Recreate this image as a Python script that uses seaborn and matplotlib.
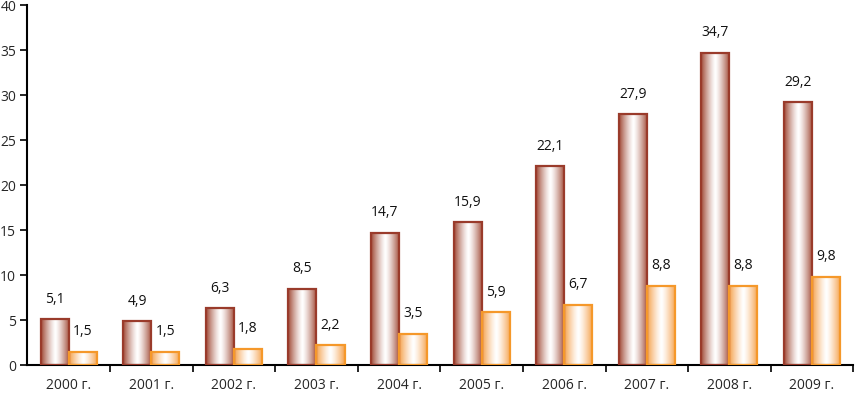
import matplotlib

matplotlib.use("Agg")
import matplotlib.pyplot as plt
import numpy as np
import pandas as pd
import seaborn as sns
from matplotlib.colors import LinearSegmentedColormap

YEARS = ["2000 г.", "2001 г.", "2002 г.", "2003 г.", "2004 г.",
         "2005 г.", "2006 г.", "2007 г.", "2008 г.", "2009 г."]
SERIES_1 = [5.1, 4.9, 6.3, 8.5, 14.7, 15.9, 22.1, 27.9, 34.7, 29.2]
SERIES_2 = [1.5, 1.5, 1.8, 2.2, 3.5, 5.9, 6.7, 8.8, 8.8, 9.8]
SERIES_NAMES = ["s1", "s2"]
Y_TICKS = [0, 5, 10, 15, 20, 25, 30, 35, 40]

EDGE = {"s1": "#9a3b2b", "s2": "#f5982a"}
FILL = {"s1": "#a04a36", "s2": "#f5a04a"}

df = pd.DataFrame({
    "year": YEARS * 2,
    "series": [SERIES_NAMES[0]] * len(YEARS) + [SERIES_NAMES[1]] * len(YEARS),
    "value": SERIES_1 + SERIES_2,
})

sns.set_style("white")
plt.rcParams["font.family"] = ["Open Sans", "DejaVu Sans"]

fig = plt.figure(figsize=(8.55, 3.96), dpi=100)
ax = fig.add_axes([0.032, 0.078, 0.966, 0.909])

sns.barplot(data=df, x="year", y="value", hue="series", hue_order=SERIES_NAMES,
            palette=EDGE, width=0.68, gap=0, legend=False, ax=ax)

grad = np.abs(np.linspace(-1, 1, 256)) ** 1.3
grad = grad.reshape(1, -1)

for container, name in zip(ax.containers, SERIES_NAMES):
    cmap = LinearSegmentedColormap.from_list(name, ["#ffffff", FILL[name]])
    for bar, val in zip(container, container.datavalues):
        x0, y0 = bar.get_x(), bar.get_y()
        w, h = bar.get_width(), bar.get_height()
        bar.set_facecolor("none")
        bar.set_edgecolor(EDGE[name])
        bar.set_linewidth(1.6)
        bar.set_zorder(3)
        im = ax.imshow(grad, cmap=cmap, vmin=0, vmax=1, aspect="auto",
                       extent=(x0, x0 + w, y0, y0 + h), zorder=2,
                       interpolation="bilinear")
        im.set_clip_path(bar)
        ax.annotate(f"{val:.1f}".replace(".", ","), (x0 + w / 2, y0 + h),
                    xytext=(0, 9), textcoords="offset points",
                    ha="center", va="bottom", fontsize=10, color="#111111")

ax.set_aspect("auto")
ax.set_xlim(-0.5, 9.5)
ax.set_ylim(0, 40)
ax.set_yticks(Y_TICKS)
ax.set_xticks(range(len(YEARS)))
ax.set_xticklabels(YEARS)
ax.set_xticks(np.arange(0.5, len(YEARS), 1), minor=True)
ax.tick_params(axis="x", which="major", length=0, pad=9, labelsize=10)
ax.tick_params(axis="x", which="minor", length=5, width=1.2, direction="out",
               color="black", bottom=True)
ax.tick_params(axis="y", length=5, width=1.2, direction="out", color="black",
               left=True, labelsize=10, pad=3)
ax.set_xlabel("")
ax.set_ylabel("")
sns.despine(ax=ax)
for side in ["left", "bottom"]:
    ax.spines[side].set_color("black")
    ax.spines[side].set_linewidth(1.5)

fig.savefig("out.png", dpi=100)
